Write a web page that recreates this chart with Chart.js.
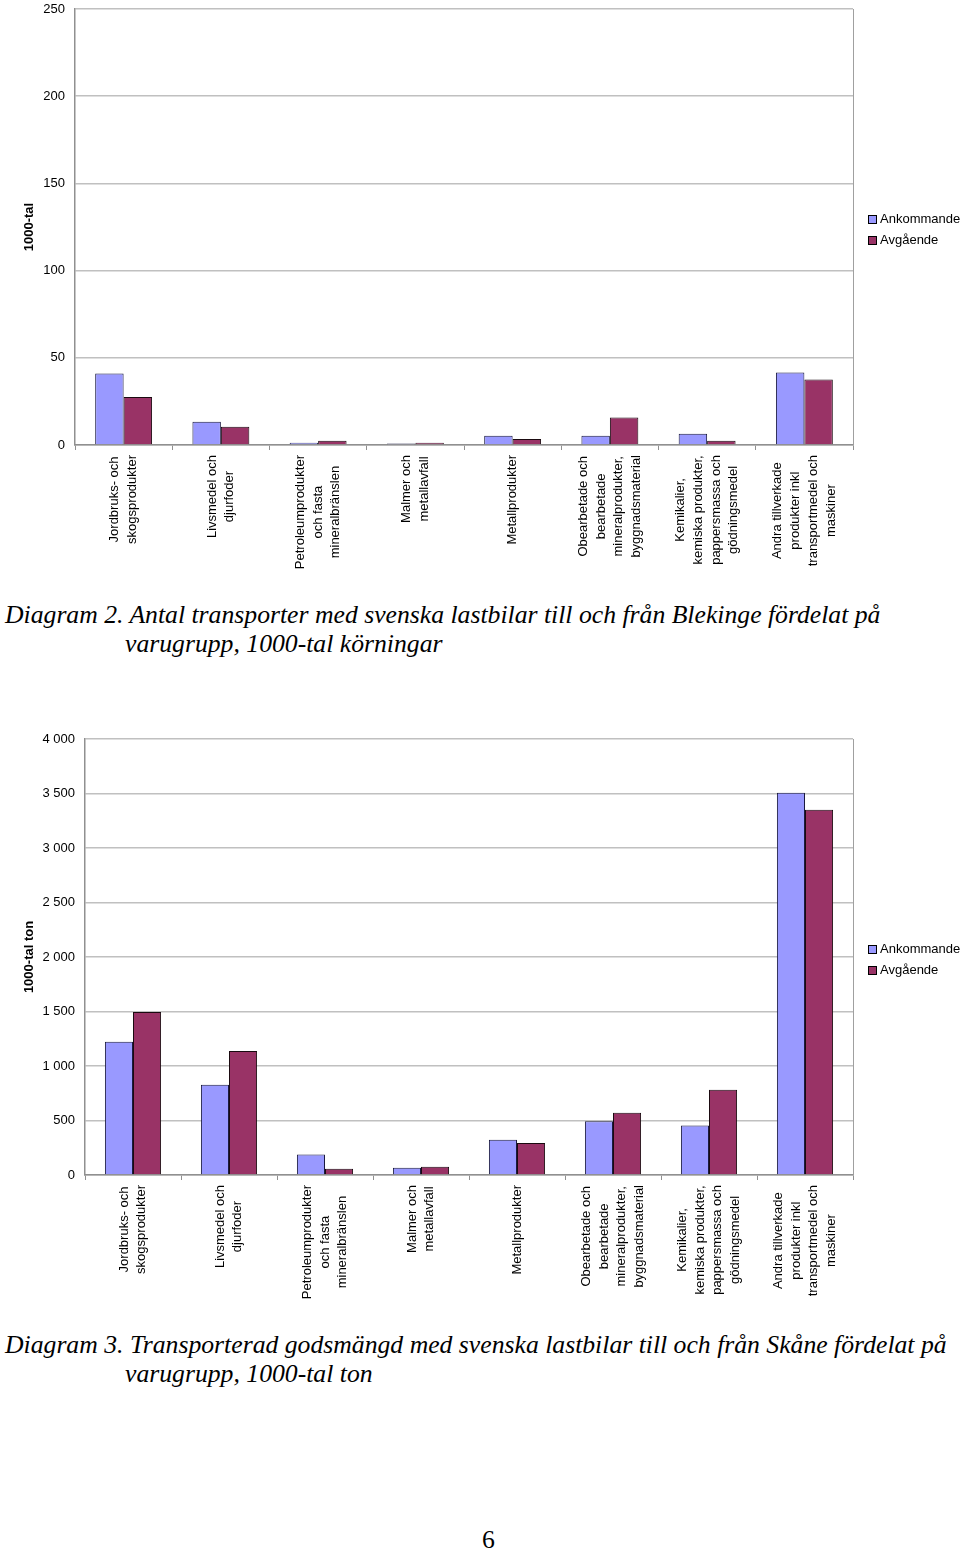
<!DOCTYPE html>
<html>
<head>
<meta charset="utf-8">
<script src="https://cdn.jsdelivr.net/npm/chart.js@4/dist/chart.umd.min.js"></script>
<style>
  body { margin: 0; background: #fff; width: 960px; height: 1551px; position: relative; overflow: hidden; }
  .wrap { position: absolute; left: 0; width: 960px; }
  .legend { position: absolute; left: 868px; font: 13px "Liberation Sans", Arial, sans-serif; color: #000; }
  .legend div { height: 21px; line-height: 21px; white-space: nowrap; }
  .legend span { display: inline-block; width: 7px; height: 7px; border: 1px solid #000; margin-right: 3px; vertical-align: -1px; }
  .caption { position: absolute; left: 5px; font: italic 25.7px "Liberation Serif", "Times New Roman", serif; line-height: 29px; white-space: nowrap; color: #000; }
  .caption .l2 { padding-left: 120px; }
  .page { position: absolute; left: 482px; top: 1525px; font: 25.7px "Liberation Serif", "Times New Roman", serif; }
</style>
</head>
<body>

<div class="wrap" style="top:-10px;height:590px"><canvas id="c1" width="960" height="590"></canvas></div>
<div class="legend" style="top:208px">
  <div><span style="background:#9999ff"></span>Ankommande</div>
  <div><span style="background:#993366"></span>Avgående</div>
</div>
<div class="caption" style="top:600px">
  <div>Diagram 2. Antal transporter med svenska lastbilar till och från Blekinge fördelat på</div>
  <div class="l2">varugrupp, 1000-tal körningar</div>
</div>

<div class="wrap" style="top:700px;height:600px"><canvas id="c2" width="960" height="600"></canvas></div>
<div class="legend" style="top:938px">
  <div><span style="background:#9999ff"></span>Ankommande</div>
  <div><span style="background:#993366"></span>Avgående</div>
</div>
<div class="caption" style="top:1330px">
  <div>Diagram 3. Transporterad godsmängd med svenska lastbilar till och från Skåne fördelat på</div>
  <div class="l2">varugrupp, 1000-tal ton</div>
</div>

<div class="page">6</div>

<script>
// varugrupper (one array entry per label line)
var categories = [
    ["Jordbruks- och", "skogsprodukter"],
    ["Livsmedel och", "djurfoder"],
    ["Petroleumprodukter", "och fasta", "mineralbränslen"],
    ["Malmer och", "metallavfall"],
    ["Metallprodukter"],
    ["Obearbetade och", "bearbetade", "mineralprodukter,", "byggnadsmaterial"],
    ["Kemikalier,", "kemiska produkter,", "pappersmassa och", "gödningsmedel"],
    ["Andra tillverkade", "produkter inkl", "transportmedel och", "maskiner"]
];
var seriesNames = ["Ankommande", "Avgående"];

// Diagram 2, 1000-tal körningar
var ankommande2 = [41, 13.4, 1.3, 0.8, 5.3, 5.3, 6.5, 41.5];
var avgaende2 = [27.5, 10.5, 2.5, 1.3, 3.4, 15.7, 2.5, 37.5];
var yAxis2 = [0, 250, 50];   // min, max, step

// Diagram 3, 1000-tal ton
var ankommande3 = [1223, 829, 187, 67, 324, 492, 453, 3508];
var avgaende3 = [1495, 1138, 58, 76, 294, 572, 783, 3352];
var yAxis3 = [0, 4000, 500];

var labelFont = '13px "Liberation Sans", Arial, sans-serif';

// rotated, centred multi-line category labels like the excel original
var xLabels = {
    id: 'xLabels',
    afterDraw: function (chart) {
        var ctx = chart.ctx, xs = chart.scales.x, bottom = chart.chartArea.bottom;
        var lh = 17.7;
        ctx.save();
        ctx.font = labelFont;
        ctx.fillStyle = '#000';
        ctx.textAlign = 'center';
        ctx.textBaseline = 'middle';
        categories.forEach(function (lines, i) {
            var x = xs.getPixelForValue(i);
            var w = 0;
            lines.forEach(function (l) { w = Math.max(w, ctx.measureText(l).width); });
            var cy = bottom + 10 + w / 2;
            lines.forEach(function (l, j) {
                ctx.save();
                ctx.translate(x + (j - (lines.length - 1) / 2) * lh, cy);
                ctx.rotate(-Math.PI / 2);
                ctx.fillText(l, 0, 0);
                ctx.restore();
            });
        });
        // right edge of plot area
        var a = chart.chartArea;
        ctx.strokeStyle = '#a0a0a0';
        ctx.lineWidth = 1;
        ctx.beginPath();
        ctx.moveTo(a.right + 0.5, a.top);
        ctx.lineTo(a.right + 0.5, a.bottom);
        ctx.stroke();
        ctx.restore();
    }
};

function fmt(v) {
    return String(v).replace(/\B(?=(\d{3})+(?!\d))/g, ' ');
}

function makeChart(id, anko, avg, yAxis, yTitle, leftW, padTop, xH) {
    return new Chart(document.getElementById(id), {
        type: 'bar',
        data: {
            labels: categories.map(function (c) { return c.join(' '); }),
            datasets: [
                {
                    label: seriesNames[0],
                    data: anko,
                    backgroundColor: '#9999ff',
                    borderColor: '#1a1a40',
                    borderWidth: 1,
                    categoryPercentage: 0.585,
                    barPercentage: 1
                },
                {
                    label: seriesNames[1],
                    data: avg,
                    backgroundColor: '#993366',
                    borderColor: '#1a0a10',
                    borderWidth: 1,
                    categoryPercentage: 0.585,
                    barPercentage: 1
                }
            ]
        },
        options: {
            responsive: false,
            animation: false,
            layout: {
                padding: { top: padTop, bottom: 0, left: 0, right: 107 }
            },
            plugins: {
                legend: { display: false },
                tooltip: { enabled: false }
            },
            scales: {
                x: {
                    ticks: { display: false },
                    grid: {
                        display: true,
                        drawOnChartArea: false,
                        drawTicks: true,
                        tickLength: 5,
                        color: '#909090'
                    },
                    border: { color: '#909090', width: 1.5 },
                    afterFit: function (s) { s.height = xH; }
                },
                y: {
                    min: yAxis[0],
                    max: yAxis[1],
                    ticks: {
                        stepSize: yAxis[2],
                        padding: 10,
                        color: '#000',
                        font: { family: '"Liberation Sans", Arial, sans-serif', size: 13 },
                        callback: function (v) { return fmt(v); }
                    },
                    grid: { color: '#c0c0c0', lineWidth: 1.5, drawTicks: false },
                    border: { color: '#909090', width: 1.5 },
                    title: {
                        display: true,
                        text: yTitle,
                        color: '#000',
                        font: { family: '"Liberation Sans", Arial, sans-serif', size: 13, weight: 'bold' },
                        padding: { top: 22, bottom: 0 }
                    },
                    afterFit: function (s) { s.width = leftW; }
                }
            }
        },
        plugins: [xLabels]
    });
}

makeChart('c1', ankommande2, avgaende2, yAxis2, '1000-tal', 75, 19, 135);
makeChart('c2', ankommande3, avgaende3, yAxis3, '1000-tal ton', 85, 39, 125);
</script>
</body>
</html>
